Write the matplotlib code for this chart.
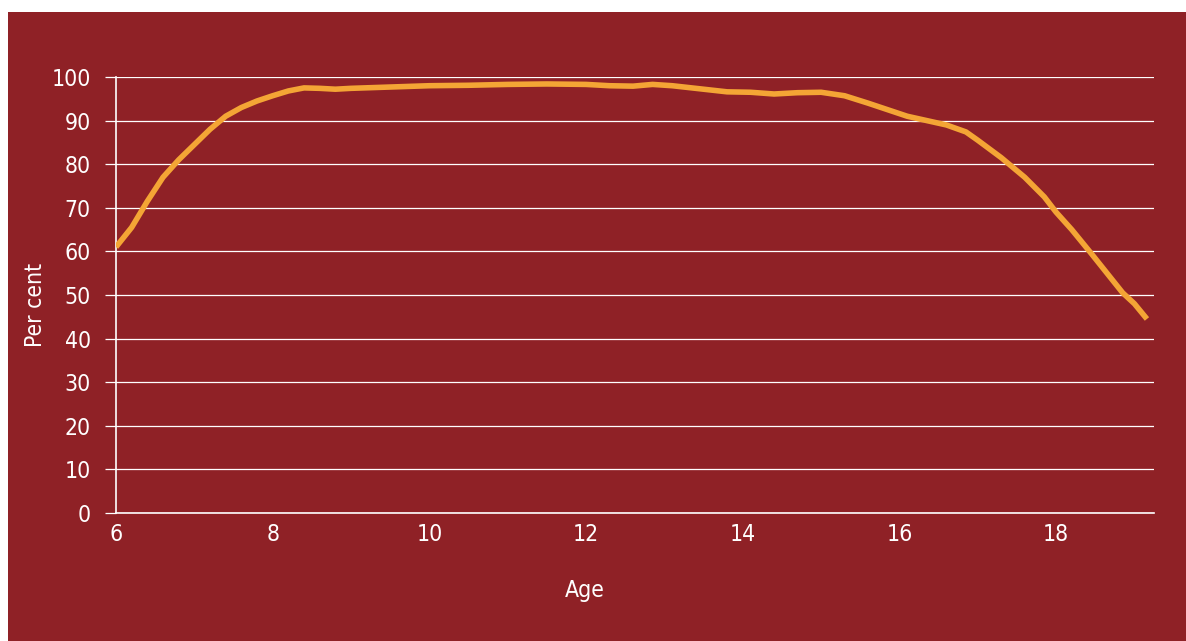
import matplotlib
matplotlib.use('Agg')
import matplotlib.pyplot as plt
from matplotlib.patches import Rectangle

# share of young people in education, by age
age = [6.0, 6.2, 6.4, 6.6, 6.8, 7.0, 7.2, 7.4, 7.6, 7.8, 8.0, 8.2, 8.4, 8.6,
       8.8, 9.0, 9.5, 10.0, 10.5, 11.0, 11.5, 12.0, 12.3, 12.6, 12.85, 13.1,
       13.5, 13.8, 14.1, 14.4, 14.7, 15.0, 15.3, 15.6, 15.9, 16.1, 16.4, 16.6,
       16.85, 17.0, 17.3, 17.6, 17.85, 18.0, 18.2, 18.45, 18.65, 18.85, 19.0,
       19.16]
per_cent = [61.0, 65.5, 71.5, 77.0, 81.0, 84.5, 88.0, 91.0, 93.0, 94.5, 95.7,
            96.8, 97.5, 97.4, 97.2, 97.4, 97.7, 98.0, 98.1, 98.3, 98.4, 98.3,
            98.0, 97.9, 98.3, 98.0, 97.2, 96.6, 96.5, 96.1, 96.4, 96.5, 95.7,
            94.0, 92.2, 91.0, 89.8, 89.0, 87.4, 85.5, 81.5, 77.0, 72.5, 69.0,
            65.0, 59.5, 55.0, 50.5, 48.0, 44.5]
x_ticks = [6, 8, 10, 12, 14, 16, 18]
y_ticks = list(range(0, 101, 10))

BG = '#8f2126'
LINE = '#f4a535'
plt.rcParams['font.family'] = ['DejaVu Sans']
plt.rcParams['font.stretch'] = 'condensed'

fig = plt.figure(figsize=(11.86, 6.41), dpi=100, facecolor='white')
fig.add_artist(Rectangle((8 / 1186, 0), 1, 1 - 12 / 641,
                         transform=fig.transFigure, facecolor=BG,
                         edgecolor='none', zorder=-10))

ax = fig.add_axes([116 / 1186, 1 - 513 / 641, (1154 - 116) / 1186,
                   (513 - 77) / 641])
ax.set_zorder(5)
ax.set_facecolor(BG)
ax.plot(age, per_cent, color=LINE, lw=4, solid_capstyle='butt',
        solid_joinstyle='round', zorder=3)

ax.set_xlim(6, 19.25)
ax.set_ylim(0, 100)
ax.set_xticks(x_ticks)
ax.set_yticks(y_ticks)
ax.grid(axis='y', color='white', lw=0.9)
ax.set_axisbelow(True)

for side in ('top', 'right'):
    ax.spines[side].set_visible(False)
ax.spines['left'].set_color('white')
ax.spines['left'].set_linewidth(1.2)
ax.spines['bottom'].set_color('white')
ax.spines['bottom'].set_linewidth(1.2)

ax.tick_params(axis='y', colors='white', length=8, width=0.9, pad=10,
               labelsize=16.5)
ax.tick_params(axis='x', colors='white', length=0, pad=7, labelsize=16.5)

fig.text(585 / 1186, 1 - 591 / 641, 'Age', color='white', fontsize=16.5,
         ha='center', va='center', zorder=6)
fig.text(35 / 1186, 1 - 305 / 641, 'Per cent', color='white', fontsize=16.5,
         ha='center', va='center', rotation=90, zorder=6)

fig.savefig('out.png', dpi=100, facecolor=fig.get_facecolor())
